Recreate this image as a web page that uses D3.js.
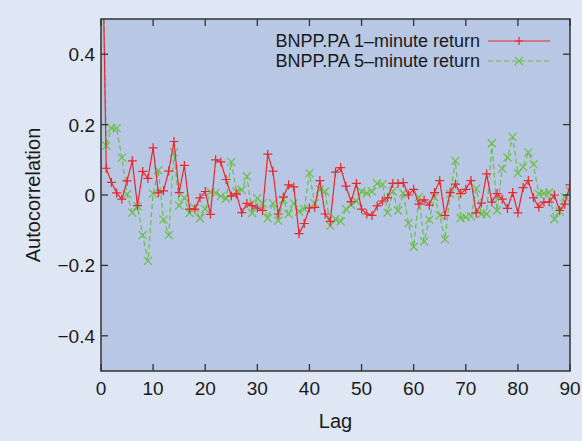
<!DOCTYPE html>
<html><head><meta charset="utf-8">
<script src="https://cdn.jsdelivr.net/npm/d3@7"></script>
<style>body{margin:0;background:#dfe7f4;}text{font-family:"Liberation Sans",Arial,sans-serif;}</style>
</head><body><svg id="c" width="582" height="441"></svg>
<script>
const lags = d3.range(0, 91);
const ret1 = [1,0.076,0.036,0.006,-0.012,0.04,0.097,-0.03,0.067,0.047,0.134,0.006,0.012,0.068,0.152,0.007,0.084,-0.04,-0.04,-0.008,0.01,-0.055,0.10,0.094,0.044,-0.003,0.003,-0.05,-0.024,-0.03,-0.037,-0.044,0.116,0.068,-0.054,-0.006,0.029,0.023,-0.11,-0.081,-0.037,-0.035,0.041,-0.054,-0.075,0.065,0.078,0.025,-0.019,0.033,-0.04,-0.054,-0.058,-0.031,-0.017,-0.008,0.033,0.033,0.035,0.0,0.016,-0.026,-0.014,-0.029,0.007,0.041,-0.058,0.007,0.031,0.004,0.016,0.041,-0.051,-0.023,0.06,-0.02,0.004,-0.012,-0.038,0.007,-0.051,0.021,0.041,-0.008,-0.035,-0.02,-0.02,0.0,-0.044,-0.026,0.029];
const ret5 = [1,0.14,0.19,0.19,0.106,0.002,-0.05,-0.032,-0.114,-0.187,0.004,0.07,-0.07,-0.114,0.121,-0.03,-0.008,-0.051,-0.037,-0.066,-0.04,0.009,0.006,-0.003,-0.01,0.094,0.01,0.015,0.053,-0.051,-0.009,-0.024,-0.066,-0.024,-0.073,-0.013,-0.054,-0.024,-0.047,-0.04,0.062,-0.024,0.016,0.01,-0.087,-0.069,-0.075,-0.04,-0.028,-0.017,0.01,0.005,0.01,0.033,0.03,-0.05,0.01,-0.044,0.005,-0.08,-0.147,-0.006,-0.132,-0.07,-0.006,-0.058,-0.126,0.003,0.097,-0.066,-0.063,-0.06,0.018,-0.054,-0.054,0.147,-0.044,0.075,0.107,0.165,0.062,0.079,0.121,0.087,0.003,0.005,0.007,-0.069,-0.047,-0.006,0.011];
const yTicks = [-0.4,-0.2,0,0.2,0.4];
const xTicks = [0,10,20,30,40,50,60,70,80,90];
const names = ["BNPP.PA 1\u2013minute return","BNPP.PA 5\u2013minute return"];

const L=101,R=570,T=19,B=371;
const svg=d3.select("#c");
const x=d3.scaleLinear().domain([0,90]).range([L,R]);
const y=d3.scaleLinear().domain([-0.5,0.5]).range([B,T]);
const fmt=d=>d===0?"0":(d<0?"\u2212":"")+Math.abs(d).toFixed(1);

svg.append("rect").attr("x",L).attr("y",T).attr("width",R-L).attr("height",B-T).attr("fill","#b8c7e4");
svg.append("clipPath").attr("id","cl").append("rect").attr("x",L).attr("y",T).attr("width",R-L).attr("height",B-T);

const g=svg.append("g").attr("clip-path","url(#cl)");
const line=d3.line().x((d,i)=>x(lags[i])).y(d=>y(d));
g.append("path").datum(ret5).attr("d",line).attr("fill","none").attr("stroke","#6abf45").attr("stroke-width",1.2).attr("stroke-dasharray","5,3");
g.selectAll(".x5").data(ret5).join("path").attr("d",(d,i)=>{const cx=x(lags[i]),cy=y(d),s=4;return `M${cx-s},${cy-s}L${cx+s},${cy+s}M${cx-s},${cy+s}L${cx+s},${cy-s}`;}).attr("stroke","#6abf45").attr("stroke-width",1.2);
g.append("path").datum(ret1).attr("d",line).attr("fill","none").attr("stroke","#e8282e").attr("stroke-width",1.2);
g.selectAll(".p1").data(ret1).join("path").attr("d",(d,i)=>{const cx=x(lags[i]),cy=y(d),s=4.5;return `M${cx-s},${cy}L${cx+s},${cy}M${cx},${cy-s}L${cx},${cy+s}`;}).attr("stroke","#e8282e").attr("stroke-width",1.2);

const ax=svg.append("g").attr("stroke","#333").attr("stroke-width",1.3);
xTicks.forEach(t=>{ax.append("line").attr("x1",x(t)).attr("x2",x(t)).attr("y1",B).attr("y2",B-7);ax.append("line").attr("x1",x(t)).attr("x2",x(t)).attr("y1",T).attr("y2",T+7);});
yTicks.forEach(t=>{ax.append("line").attr("x1",L).attr("x2",L+7).attr("y1",y(t)).attr("y2",y(t));ax.append("line").attr("x1",R).attr("x2",R-7).attr("y1",y(t)).attr("y2",y(t));});
svg.append("rect").attr("x",L).attr("y",T).attr("width",R-L).attr("height",B-T).attr("fill","none").attr("stroke","#333").attr("stroke-width",1.5);

svg.selectAll(".xt").data(xTicks).join("text").attr("x",d=>x(d)).attr("y",B+24).attr("text-anchor","middle").attr("font-size",19).attr("fill","#1a1a1a").text(d=>d);
svg.selectAll(".yt").data(yTicks).join("text").attr("x",L-6).attr("y",d=>y(d)+7).attr("text-anchor","end").attr("font-size",19).attr("fill","#1a1a1a").text(fmt);
svg.append("text").attr("x",(L+R)/2).attr("y",428).attr("text-anchor","middle").attr("font-size",20).attr("fill","#1a1a1a").text("Lag");
svg.append("text").attr("transform",`translate(40,${(T+B)/2}) rotate(-90)`).attr("text-anchor","middle").attr("font-size",20).attr("fill","#1a1a1a").text("Autocorrelation");

const lg=svg.append("g");
names.forEach((n,i)=>{
  const ly=41+i*20;
  lg.append("text").attr("x",480).attr("y",ly+6).attr("text-anchor","end").attr("font-size",18).attr("fill","#1a1a1a").text(n);
  const col=i?"#6abf45":"#e8282e";
  lg.append("line").attr("x1",488).attr("x2",550).attr("y1",ly).attr("y2",ly).attr("stroke",col).attr("stroke-width",1.2).attr("stroke-dasharray",i?"5,3":null);
  const cx=519,s=4;
  lg.append("path").attr("d",i?`M${cx-s},${ly-s}L${cx+s},${ly+s}M${cx-s},${ly+s}L${cx+s},${ly-s}`:`M${cx-s},${ly}L${cx+s},${ly}M${cx},${ly-s}L${cx},${ly+s}`).attr("stroke",col).attr("stroke-width",1.2);
});
</script></body></html>
